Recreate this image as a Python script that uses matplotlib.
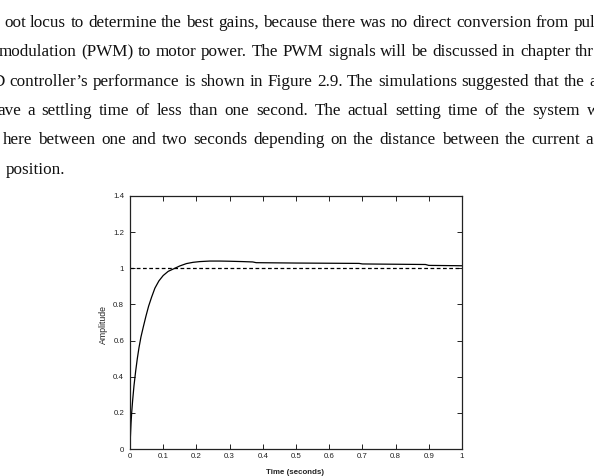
import matplotlib
matplotlib.use("Agg")
import matplotlib.pyplot as plt

# ---------------- data ----------------
time_s = [0, 0.001, 0.003, 0.005, 0.008, 0.012, 0.017, 0.022, 0.027, 0.033, 0.04,
          0.048, 0.056, 0.065, 0.075, 0.087, 0.1, 0.115, 0.135, 0.15, 0.17, 0.19,
          0.21, 0.24, 0.27, 0.3, 0.34, 0.37, 0.38, 0.5, 0.69, 0.7, 0.89, 0.9, 1.0]
amplitude = [0, 0.06, 0.14, 0.2, 0.27, 0.35, 0.43, 0.5, 0.56, 0.62, 0.675,
             0.735, 0.79, 0.84, 0.89, 0.93, 0.96, 0.983, 1.0, 1.013, 1.026, 1.033,
             1.037, 1.04, 1.04, 1.039, 1.037, 1.035, 1.031, 1.029, 1.027, 1.024, 1.021, 1.016, 1.014]
reference_level = [1.0, 1.0]
reference_time = [0, 1]
xticks = [0, 0.1, 0.2, 0.3, 0.4, 0.5, 0.6, 0.7, 0.8, 0.9, 1]
xtick_labels = ["0", "0.1", "0.2", "0.3", "0.4", "0.5", "0.6", "0.7", "0.8", "0.9", "1"]
yticks = [0, 0.2, 0.4, 0.6, 0.8, 1.0, 1.2, 1.4]
ytick_labels = ["0", "0.2", "0.4", "0.6", "0.8", "1", "1.2", "1.4"]

paragraph_lines = [
    "oot locus to determine the best gains, because there was no direct conversion from pul",
    "modulation (PWM) to motor power. The PWM signals will be discussed in chapter thr",
    "D controller\u2019s performance is shown in Figure 2.9. The simulations suggested that the a",
    "ave a settling time of less than one second. The actual setting time of the system w",
    "here between one and two seconds depending on the distance between the current a",
    "position.",
]

# ---------------- figure ----------------
W, H = 594, 476
fig = plt.figure(figsize=(W / 100, H / 100), dpi=100)
fig.patch.set_facecolor("white")
renderer = fig.canvas.get_renderer()

serif = "Liberation Serif"


def text_width(s, size):
    t = fig.text(0, 0, s, fontsize=size, family=serif)
    w = t.get_window_extent(renderer).width
    t.remove()
    return w


# calibrate font size so that the first line spans its visible width
base = 12.0
natural = text_width(paragraph_lines[0], base)
fsize = base * (591.0 / natural)

# (start x px, baseline y px, end x px or None)
layout = [(4, 27, 595), (-1, 56, 594), (-7, 85.5, 597),
          (-3, 115, 599), (3, 144.5, 593), (6, 174, None)]

for line, (x0, yb, x1) in zip(paragraph_lines, layout):
    words = line.split(" ")
    if x1 is None or len(words) == 1:
        fig.text(x0 / W, 1 - yb / H, line, fontsize=fsize, family=serif,
                 va="baseline", ha="left", color="#111111")
        continue
    widths = [text_width(w_, fsize) for w_ in words]
    gap = ((x1 - x0) - sum(widths)) / (len(words) - 1)
    x = x0
    for w_, wd in zip(words, widths):
        fig.text(x / W, 1 - yb / H, w_, fontsize=fsize, family=serif,
                 va="baseline", ha="left", color="#111111")
        x += wd + gap

# ---------------- chart ----------------
left, right, top, bottom = 130, 462, 196, 449
ax = fig.add_axes([left / W, (H - bottom) / H, (right - left) / W, (bottom - top) / H])
ax.plot(time_s, amplitude, color="black", lw=0.9)
ax.plot(reference_time, reference_level, color="black", lw=0.9, ls=(0, (3, 2)))
ax.set_xlim(0, 1)
ax.set_ylim(0, 1.4)
ax.set_xticks(xticks)
ax.set_xticklabels(xtick_labels)
ax.set_yticks(yticks)
ax.set_yticklabels(ytick_labels)
for sp in ax.spines.values():
    sp.set_linewidth(0.9)
    sp.set_color("#222222")
ax.tick_params(direction="in", length=3.5, width=0.7, top=True, right=True,
               labelsize=5.7, colors="#222222")
ax.tick_params(axis="x", pad=3.2)
ax.tick_params(axis="y", pad=4.2)
for lab in ax.get_xticklabels() + ax.get_yticklabels():
    lab.set_family("Liberation Sans")

fig.text(295 / W, 1 - 472 / H, "Time (seconds)", fontsize=5.7, family="Liberation Sans",
         fontweight="bold", ha="center", va="center", color="#222222")
fig.text(103 / W, 1 - 324 / H, "Amplitude", fontsize=6.3, family="Liberation Sans",
         rotation=90, ha="center", va="center", color="#222222")

fig.savefig("out.png", dpi=100, facecolor="white")
